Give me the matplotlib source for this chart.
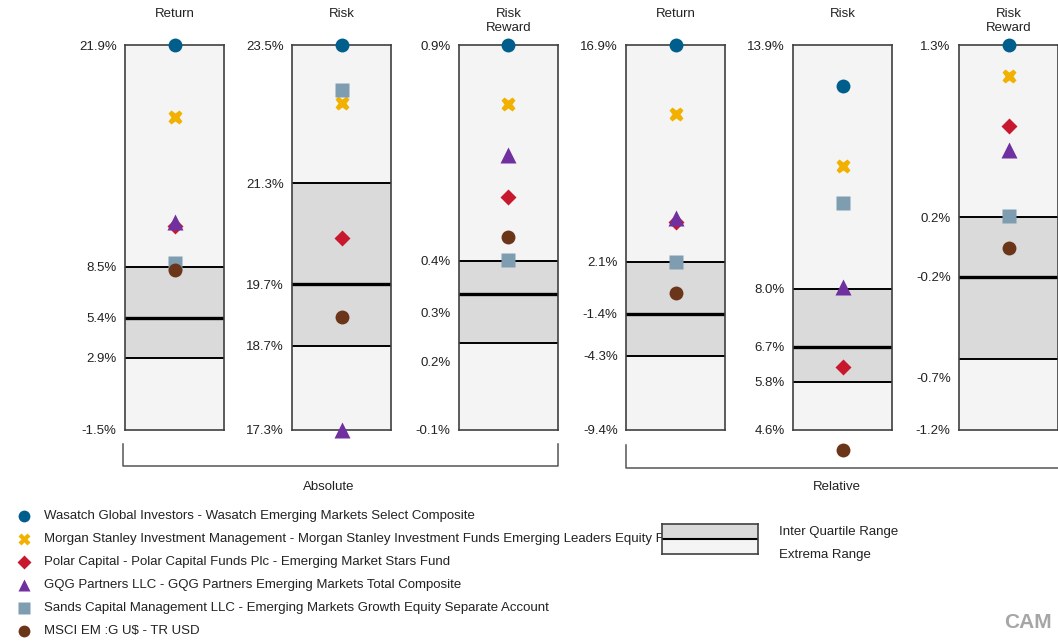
import matplotlib
matplotlib.use("Agg")
import matplotlib.pyplot as plt

# Data
titles = ["Return", "Risk", "Risk\nReward", "Return", "Risk", "Risk\nReward"]
groups = ["Absolute", "Relative"]

names = ["Wasatch Global Investors - Wasatch Emerging Markets Select Composite",
         "Morgan Stanley Investment Management - Morgan Stanley Investment Funds Emerging Leaders Equity Fund",
         "Polar Capital - Polar Capital Funds Plc - Emerging Market Stars Fund",
         "GQG Partners LLC - GQG Partners Emerging Markets Total Composite",
         "Sands Capital Management LLC - Emerging Markets Growth Equity Separate Account",
         "MSCI EM :G U$ - TR USD"]

wasatch = [21.9, 23.5, 0.94, 16.9, 12.92, 1.3]
morgan = [17.54, 22.57, 0.786, 12.17, 10.98, 1.099]
polar = [10.9, 20.40, 0.544, 4.83, 6.11, 0.774]
gqg = [11.16, 17.3, 0.654, 5.06, 8.05, 0.618]
sands = [8.65, 22.78, 0.382, 2.06, 10.08, 0.19]
msci = [8.23, 19.12, 0.44, -0.06, 4.12, -0.02]

# peer group ranges
maxs = [21.9, 23.5, 0.94, 16.9, 13.9, 1.3]
q3s = [8.41, 21.27, 0.379, 2.08, 8.01, 0.183]
medians = [5.31, 19.65, 0.293, -1.47, 6.61, -0.206]
q1s = [2.88, 18.66, 0.166, -4.34, 5.76, -0.739]
mins = [-1.5, 17.3, -0.06, -9.4, 4.6, -1.2]

tick_labels = [["21.9%", "8.5%", "5.4%", "2.9%", "-1.5%"],
               ["23.5%", "21.3%", "19.7%", "18.7%", "17.3%"],
               ["0.9%", "0.4%", "0.3%", "0.2%", "-0.1%"],
               ["16.9%", "2.1%", "-1.4%", "-4.3%", "-9.4%"],
               ["13.9%", "8.0%", "6.7%", "5.8%", "4.6%"],
               ["1.3%", "0.2%", "-0.2%", "-0.7%", "-1.2%"]]
tick_vals = [[21.9, 8.41, 5.31, 2.88, -1.5],
             [23.5, 21.27, 19.65, 18.66, 17.3],
             [0.94, 0.379, 0.246, 0.119, -0.06],
             [16.9, 2.08, -1.47, -4.34, -9.4],
             [13.9, 8.01, 6.61, 5.76, 4.6],
             [1.3, 0.183, -0.206, -0.86, -1.2]]

series = [wasatch, morgan, polar, gqg, sands, msci]
markers = ["o", "X", "D", "^", "s", "o"]
sizes = [10, 10.5, 8, 11, 10.5, 10]
colors = ["#005e8c", "#f2b100", "#c8182e", "#7030a0", "#7f9db0", "#6b3519"]

plt.rcParams['font.family'] = ['Liberation Sans', 'DejaVu Sans']
plt.rcParams['font.size'] = 9.5
text_color = "#222222"

W, H = 1058, 643
fig = plt.figure(figsize=(W / 100, H / 100), dpi=100)

def px(x0, y0, w, h):  # pixel box (top-left origin) -> figure fraction
    return [x0 / W, 1 - (y0 + h) / H, w / W, h / H]

# background layer for brackets / legend, in pixel coords
bg = fig.add_axes([0, 0, 1, 1], zorder=0)
bg.set_xlim(0, W)
bg.set_ylim(H, 0)
bg.axis("off")

panel_left = [125, 292, 459, 626, 793, 959]
for i in range(6):
    ax = fig.add_axes(px(panel_left[i], 45, 99, 385), zorder=2)
    ax.set_facecolor("#f4f4f4")
    ax.set_xlim(-1, 1)
    ax.set_ylim(mins[i], maxs[i])
    ax.axhspan(q1s[i], q3s[i], color="#dadada", lw=0)
    ax.axhline(q3s[i], color="black", lw=1.4)
    ax.axhline(q1s[i], color="black", lw=1.4)
    ax.axhline(medians[i], color="black", lw=2.4)
    for s in range(len(series)):
        ax.plot([0], [series[s][i]], marker=markers[s], ms=sizes[s], color=colors[s],
                mec="none", ls="none", clip_on=False, zorder=5)
    for sp in ax.spines.values():
        sp.set_color("#404040")
        sp.set_linewidth(1.2)
    ax.set_xticks([])
    ax.set_yticks(tick_vals[i])
    ax.set_yticklabels(tick_labels[i], color=text_color)
    ax.tick_params(axis="y", length=0, pad=6)
    pos = ax.get_position()
    fig.text(pos.x0 + pos.width / 2, 1 - 8 / H, titles[i], ha="center", va="top",
             color=text_color, linespacing=1.25)

# group brackets
bg.plot([123, 123, 558, 558], [444, 466, 466, 444], color="#555555", lw=1.1)
bg.plot([626, 626, 1061, 1061], [445, 468, 468, 445], color="#555555", lw=1.1)
bg.text(329, 487, groups[0], ha="center", va="center", color=text_color)
bg.text(837, 487, groups[1], ha="center", va="center", color=text_color)

# series legend
for s in range(len(series)):
    y = 516 + 23 * s
    bg.plot([24], [y], marker=markers[s], ms=sizes[s] * 0.85, color=colors[s], mec="none", ls="none")
    bg.text(44, y, names[s], va="center", color=text_color, zorder=1)

# range legend
leg = fig.add_axes(px(662, 524, 96, 30), zorder=3)
leg.set_xlim(0, 1)
leg.set_ylim(0, 1)
leg.axhspan(0.5, 1, color="#dadada", lw=0)
leg.axhspan(0, 0.5, color="#f4f4f4", lw=0)
leg.axhline(0.5, color="black", lw=1.5)
leg.set_xticks([])
leg.set_yticks([])
for sp in leg.spines.values():
    sp.set_color("#404040")
    sp.set_linewidth(1.2)
bg.text(779, 532, "Inter Quartile Range", va="center", color=text_color)
bg.text(779, 555, "Extrema Range", va="center", color=text_color)

bg.text(1004, 623, "CAM", va="center", ha="left", color="#a6a6a6",
        fontsize=15, fontweight="bold")

fig.savefig("out.png", dpi=100)
